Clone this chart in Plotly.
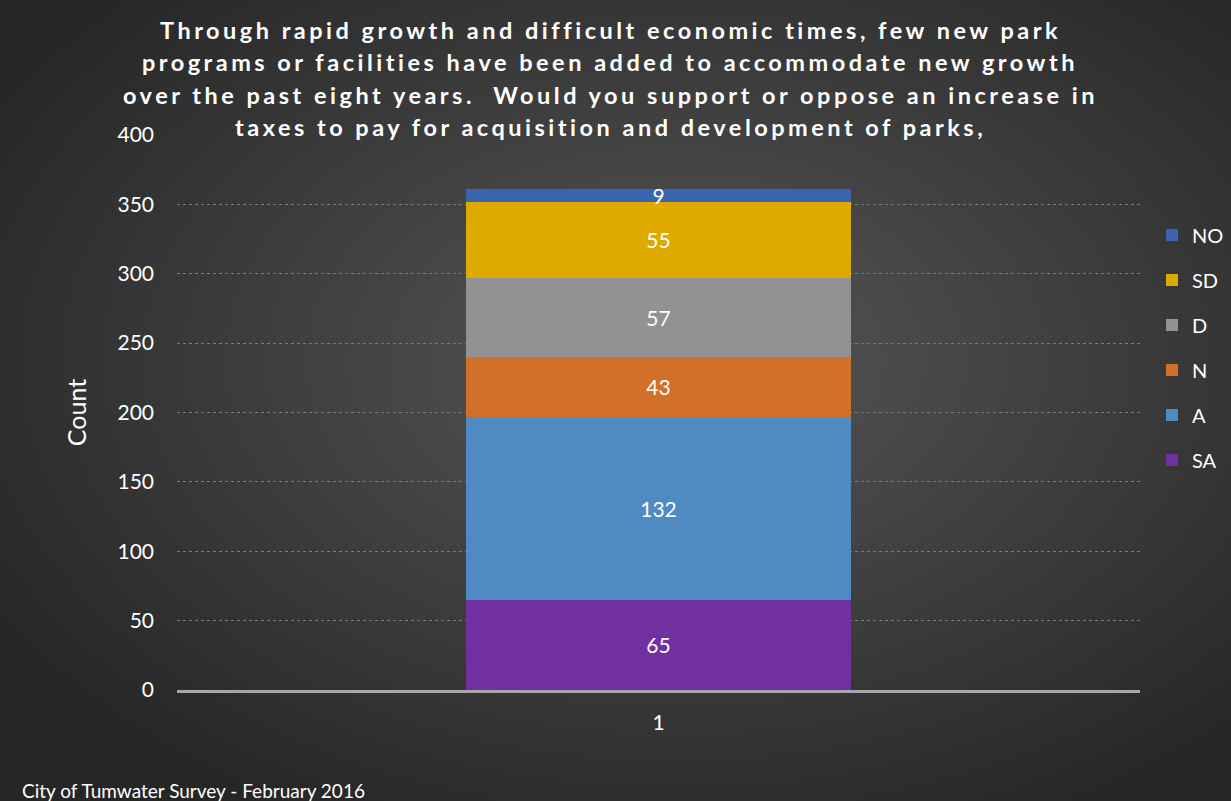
import plotly.graph_objects as go
import urllib.parse

categories = ["1"]
series_names = ["SA", "A", "N", "D", "SD", "NO"]
series_values = [[65], [132], [43], [57], [55], [9]]
series_colors = ["#7030A0", "#4F8AC2", "#D2702A", "#929292", "#DFAA00", "#3A64AD"]
legend_ranks = [6, 5, 4, 3, 2, 1]
y_ticks = [0, 50, 100, 150, 200, 250, 300, 350, 400]

title_lines = [
    "Through rapid growth and difficult economic times, few new park",
    "programs or facilities have been added to accommodate new growth",
    "over the past eight years.  Would you support or oppose an increase in",
    "taxes to pay for acquisition and development of parks,",
]

W, H = 1231, 801
ml, mr, mt, mb = 177, 91, 135, 111
pw, ph = W - ml - mr, H - mt - mb

svg = (
    f'<svg xmlns="http://www.w3.org/2000/svg" width="{W}" height="{H}">'
    '<defs><radialGradient id="g" cx="55%" cy="45%" r="65%">'
    '<stop offset="0%" stop-color="#575757"/>'
    '<stop offset="100%" stop-color="#262626"/>'
    '</radialGradient></defs>'
    f'<rect width="{W}" height="{H}" fill="url(#g)"/></svg>'
)
bg_src = "data:image/svg+xml;charset=utf-8," + urllib.parse.quote(svg)

fig = go.Figure()
for name, vals, col, rk in zip(series_names, series_values, series_colors, legend_ranks):
    fig.add_trace(go.Bar(
        x=categories, y=vals, name=name, legendrank=rk, legendgroup=name,
        marker=dict(color=col, line=dict(width=0)),
        texttemplate="%{y}", textposition="inside", insidetextanchor="middle",
        constraintext="none", textangle=0,
        textfont=dict(color="white", size=21, family="Lato, Open Sans, sans-serif"),
    ))

fig.update_layout(
    width=W, height=H,
    barmode="stack", bargap=0.6,
    margin=dict(l=ml, r=mr, t=mt, b=mb, autoexpand=False),
    paper_bgcolor="#2e2e2e",
    plot_bgcolor="rgba(0,0,0,0)",
    font=dict(family="Lato, Open Sans, sans-serif", color="white"),
    images=[dict(
        source=bg_src, xref="paper", yref="paper",
        x=-ml / pw, y=1 + mt / ph, sizex=W / pw, sizey=H / ph,
        xanchor="left", yanchor="top", sizing="stretch", layer="below",
    )],
    legend=dict(
        x=(1152 - ml) / pw, y=0.855, xanchor="left", yanchor="top",
        traceorder="grouped", tracegroupgap=16,
        font=dict(size=20, color="white"),
        bgcolor="rgba(0,0,0,0)",
    ),
    showlegend=True,
)

fig.update_yaxes(
    range=[0, 400], tickvals=y_ticks,
    showgrid=True, gridcolor="#7a7a7a", griddash="dot", gridwidth=1,
    zeroline=False, showline=False,
    tickfont=dict(size=21, color="white"),
    ticks="", ticklabelstandoff=22,
    title=dict(text="Count", font=dict(size=25, color="white"), standoff=23),
)
fig.update_xaxes(
    type="category",
    showgrid=False, zeroline=False,
    showline=True, linecolor="#a8a8a8", linewidth=3,
    tickfont=dict(size=21, color="white"),
    ticks="", ticklabelstandoff=12,
)

line_y_px = [30, 62, 95, 127]
for txt, ypx in zip(title_lines, line_y_px):
    fig.add_annotation(
        text=f'<span style="letter-spacing:3.5px"><b>{txt}</b></span>',
        xref="paper", yref="paper",
        x=(610 - ml) / pw, y=1 + (mt - ypx) / ph,
        xanchor="center", yanchor="middle", showarrow=False,
        font=dict(size=23.5, color="white", family="Lato, sans-serif"),
    )

fig.add_annotation(
    text="City of Tumwater Survey - February 2016", xref="paper", yref="paper",
    x=(20 - ml) / pw, y=-(790 - mt - ph) / ph,
    xanchor="left", yanchor="middle", showarrow=False,
    font=dict(size=19, color="white"),
)

fig.write_html(
    "out.html",
    config={"displayModeBar": False},
    post_script="document.body.style.margin='0';document.body.style.background='#2e2e2e';",
)
